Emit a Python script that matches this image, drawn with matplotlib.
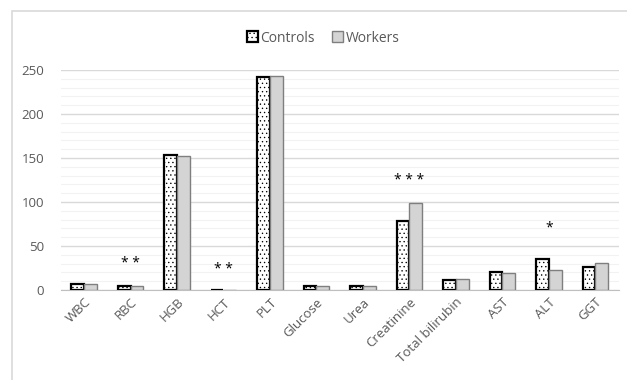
import numpy as np
import matplotlib
matplotlib.use("Agg")
import matplotlib.pyplot as plt
from matplotlib.patches import Rectangle

# biochemical / haematological parameters (group means)
categories = ["WBC", "RBC", "HGB", "HCT", "PLT", "Glucose", "Urea", "Creatinine",
              "Total bilirubin", "AST", "ALT", "GGT"]
controls = [7, 5, 153, 0.45, 242, 5, 4, 78, 11, 21, 35, 26.5]
workers = [6.5, 4.5, 152, 0.45, 243, 5, 5, 99, 12, 19.5, 23, 31]

# significance marks: category -> (stars, y)
stars = {"RBC": ("* *", 30), "HCT": ("* *", 23), "Creatinine": ("* * *", 125), "ALT": ("*", 70)}

plt.rcParams['font.family'] = ['Open Sans', 'DejaVu Sans']
plt.rcParams['hatch.linewidth'] = 0.45
txt = "#595959"

fig = plt.figure(figsize=(6.27, 3.80), dpi=100)
ax = fig.add_axes([0.0969, 0.2368, 0.8899, 0.579])

# chart frame
fig.patches.append(Rectangle((12 / 627, -0.1), 1.2, (380 - 11) / 380 + 0.1,
                             transform=fig.transFigure, fill=False,
                             edgecolor="#d9d9d9", linewidth=1.2))

x = np.arange(len(categories))
w = 0.27
ax.bar(x - w / 2, controls, w, facecolor="white", edgecolor="black",
       hatch="....", linewidth=1.6, label="Controls", zorder=3)
ax.bar(x + w / 2, workers, w, facecolor="#d4d4d4", edgecolor="#7f7f7f",
       linewidth=1.0, label="Workers", zorder=3)

for name, (s, yv) in stars.items():
    i = categories.index(name)
    ax.text(i, yv, s, ha="center", va="center", fontsize=10, color="black")

ax.set_xlim(-0.5, len(categories) - 0.5)
ax.set_ylim(0, 250)
ax.set_yticks(np.arange(0, 251, 50))
ax.set_yticks(np.arange(0, 251, 10), minor=True)
ax.grid(axis="y", which="major", color="#d9d9d9", linewidth=1.0, zorder=0)
ax.grid(axis="y", which="minor", color="#f2f2f2", linewidth=0.8, zorder=0)
ax.set_xticks(x)
ax.set_xticklabels(categories, rotation=45, ha="right", rotation_mode="anchor")
ax.tick_params(axis="both", which="both", length=0, colors=txt, labelsize=9.5)
ax.tick_params(axis="y", pad=12)
ax.tick_params(axis="x", pad=4)
for sp in ["top", "right", "left"]:
    ax.spines[sp].set_visible(False)
ax.spines["bottom"].set_color("#bfbfbf")

leg = ax.legend(loc="center", bbox_to_anchor=(0.47, 1.145), ncol=2, frameon=False,
                fontsize=10, handlelength=0.8, handleheight=0.8, handletextpad=0.2,
                columnspacing=1.2, labelcolor=txt)

fig.savefig("out.png", dpi=100)
